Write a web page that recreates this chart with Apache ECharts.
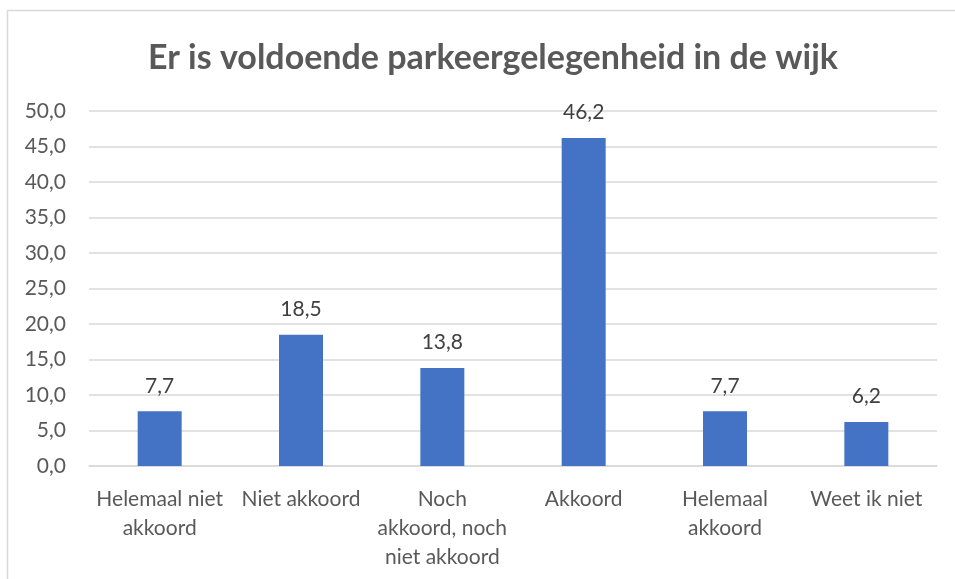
<!DOCTYPE html>
<html>
<head>
<meta charset="utf-8">
<script src="https://cdn.jsdelivr.net/npm/echarts@6/dist/echarts.min.js"></script>
<style>
  html, body { margin: 0; padding: 0; background: #fff; }
  #chart { width: 955px; height: 579px; }
</style>
</head>
<body>
<div id="chart"></div>
<script>
// categories and values
const categories = ['Helemaal niet\nakkoord', 'Niet akkoord', 'Noch\nakkoord, noch\nniet akkoord', 'Akkoord', 'Helemaal\nakkoord', 'Weet ik niet'];
const values = [7.7, 18.5, 13.8, 46.2, 7.7, 6.2];
const yTicks = [0, 5, 10, 15, 20, 25, 30, 35, 40, 45, 50];

const chart = echarts.init(document.getElementById('chart'));
const fmt = v => Number(v).toFixed(1).replace('.', ',');

chart.setOption({
  animation: false,
  textStyle: { fontFamily: 'Lato, "Open Sans", sans-serif' },
  title: {
    text: 'Er is voldoende parkeergelegenheid in de wijk',
    left: 488,
    textAlign: 'center',
    top: 36,
    textStyle: { color: '#595959', fontSize: 34, fontWeight: 'bold', fontFamily: 'Lato, "Open Sans", sans-serif' }
  },
  graphic: [{
    type: 'rect',
    shape: { x: 7.5, y: 10.5, width: 1000, height: 700 },
    style: { fill: 'none', stroke: '#d9d9d9', lineWidth: 1.5 },
    silent: true
  }],
  grid: { left: 89, right: 18, top: 111, bottom: 113 },
  xAxis: {
    type: 'category',
    data: categories,
    axisTick: { show: false },
    axisLine: { lineStyle: { color: '#d9d9d9', width: 1.5 } },
    axisLabel: { color: '#595959', fontSize: 21, lineHeight: 29, margin: 19, interval: 0 }
  },
  yAxis: {
    type: 'value',
    min: yTicks[0],
    max: yTicks[yTicks.length - 1],
    interval: 5,
    axisLine: { show: false },
    axisTick: { show: false },
    splitLine: { lineStyle: { color: '#d9d9d9', width: 1.5 } },
    axisLabel: { color: '#595959', fontSize: 21, margin: 23, formatter: fmt }
  },
  series: [{
    type: 'bar',
    data: values,
    barWidth: 44,
    itemStyle: { color: '#4472c4' },
    label: {
      show: true,
      position: 'top',
      distance: 15,
      color: '#404040',
      fontSize: 21,
      formatter: p => fmt(p.value)
    }
  }]
});
</script>
</body>
</html>
